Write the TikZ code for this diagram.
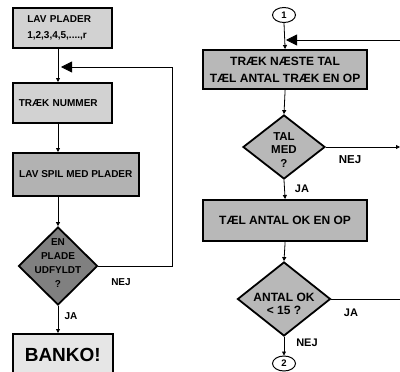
\documentclass[tikz,border=0pt]{standalone}
\usepackage{fontspec}
\setmainfont{Liberation Sans}
\usetikzlibrary{shapes.geometric,arrows.meta}
\tikzset{
  fs/.style={font=\fontsize{#1}{#1}\selectfont\bfseries},
  lbox/.style={draw, rectangle, line width=1.6pt, inner sep=0pt, anchor=north west, fs=10},
  rbox/.style={draw, rectangle, line width=2.2pt, inner sep=0pt, anchor=north west, fs=12, fill=boxgray},
  dia/.style={draw, diamond, inner sep=0pt, line width=1.8pt},
  dtxt/.style={align=center, inner sep=0pt},
  conn/.style={ellipse, draw, line width=1pt, inner sep=0pt, minimum width=23pt, minimum height=15pt, fs=9.5},
  arr/.style={-{Triangle[length=4pt,width=4pt]}, line width=0.8pt},
  plain/.style={line width=0.8pt},
  bigarr/.style={-{Triangle[length=11pt,width=11pt]}, line width=0.8pt},
  lbl/.style={fs=10, inner sep=0pt},
  rlbl/.style={fs=11, inner sep=0pt}
}
\definecolor{lightgray1}{HTML}{D2D2D2}
\definecolor{midgray}{HTML}{B2B2B2}
\definecolor{darkgray1}{HTML}{808080}
\definecolor{palegray}{HTML}{E6E6E6}
\definecolor{boxgray}{HTML}{B8B8B8}
\begin{document}
\begin{tikzpicture}[x=1pt,y=-1pt]
\clip (0,0) rectangle (400,372);
% ---------- left column ----------
\node[lbox, fill=lightgray1, minimum width=99pt, minimum height=40pt, text width=70pt, inner xsep=14.5pt, align=left] (b1) at (12,7) {LAV PLADER\\[5.5pt]1,2,3,4,5,....,r};
\node[lbox, fill=lightgray1, minimum width=99pt, minimum height=40pt, text width=87pt, inner xsep=6pt, align=left] (b2) at (12,82) {TRÆK NUMMER};
\node[lbox, fill=midgray, minimum width=126pt, minimum height=43pt] (b3) at (12,152) {LAV SPIL MED PLADER};
\node[dia, fill=darkgray1, minimum width=79pt, minimum height=78pt] (d1) at (58,266) {};
\node[dtxt, fs=10] (d1t) at (58,263.5) {EN\\[4pt]PLADE\\[4pt]UDFYLDT\\[4pt]?};
\node[lbox, fill=palegray, minimum width=100pt, minimum height=43pt, fs=19] (b4) at (12,333) {BANKO!};
\coordinate (fb1) at (61,67);
\coordinate (k1) at (172,266);

\draw[arr] (b1.south -| d1) -- (b2.north -| d1);
\draw[arr] (b2.south -| d1) -- (b3.north -| d1);
\draw[arr] (b3.south -| d1) -- (d1.north);
\draw[arr] (d1.south) -- (b4.north -| d1);
\draw[bigarr] (d1.east) -- (k1) |- (fb1);
\node[lbl] (nej1) at (121,282) {NEJ};
\node[lbl] (ja1) at (71,316) {JA};

% ---------- right column ----------
\node[conn] (c1) at (284,15) {1};
\node[rbox, minimum width=164pt, minimum height=39pt, align=center] (r1) at (202,49) {TRÆK NÆSTE TAL\\[5pt]TÆL ANTAL TRÆK EN OP};
\node[dia, fill=boxgray, minimum width=82pt, minimum height=64pt] (rd1) at (284,147) {};
\node[dtxt, fs=11.5] (rd1t) at (284,150) {TAL\\[2pt]MED\\[2pt]?};
\node[rbox, minimum width=164pt, minimum height=41pt] (r2) at (202,199) {TÆL ANTAL OK EN OP};
\node[dia, fill=boxgray, minimum width=93pt, minimum height=74pt] (rd2) at (284,299) {};
\node[dtxt, fs=12] (rd2t) at (284,304) {ANTAL OK\\[1.5pt]< 15 ?};
\node[conn] (c2) at (284,363.5) {2};
\coordinate (fb2) at (286,40);
\coordinate (e1) at (401,40);
\coordinate (e2) at (400,147);
\coordinate (e3) at (401,299);

\draw[arr] (c1.south) -- (r1.north);
\draw[bigarr] (e1) -- (fb2);
\draw[arr] (r1.south) -- (rd1.north);
\draw[arr] (rd1.east) -- (e2);
\draw[arr] (rd1.south) -- (r2.north);
\draw[arr] (r2.south) -- (rd2.north);
\draw[plain] (rd2.east) -- (e3);
\draw[arr] (rd2.south) -- (c2.north);
\node[rlbl, fs=11.5] (nej2) at (350,160) {NEJ};
\node[rlbl] (ja2) at (302,188.5) {JA};
\node[rlbl] (ja3) at (351,313) {JA};
\node[rlbl] (nej3) at (307,343) {NEJ};
\end{tikzpicture}
\end{document}
